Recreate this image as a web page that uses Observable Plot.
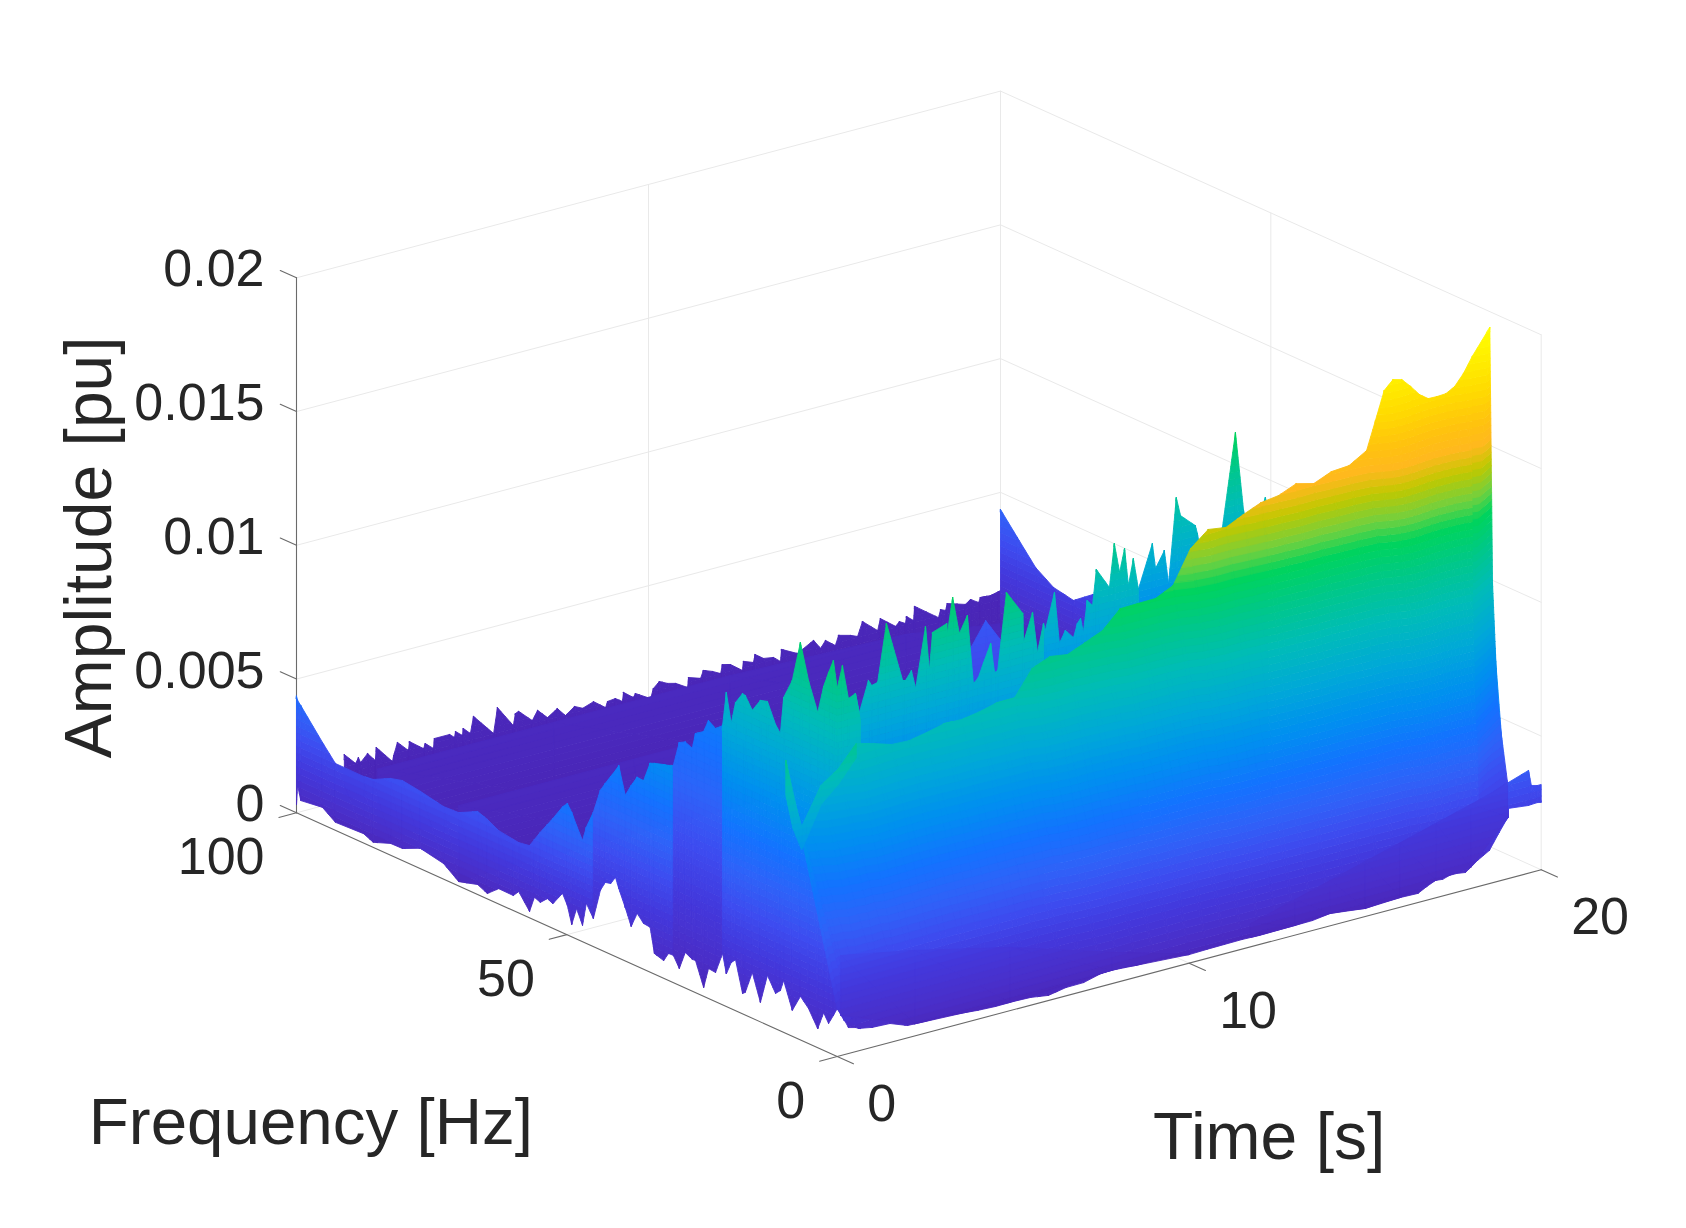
<!DOCTYPE html>
<html><head><meta charset="utf-8">
<style>html,body{margin:0;padding:0;background:#fff}svg{display:block}</style>
<script src="https://cdn.jsdelivr.net/npm/d3@7"></script>
<script src="https://cdn.jsdelivr.net/npm/@observablehq/plot@0.6"></script>
</head><body><div id="chart"></div>
<script>
// amplitudes in milli-pu, frequency in Hz, time in s
const ampTicks=[0,5,10,15,20], ampLabels=["0","0.005","0.01","0.015","0.02"];
const freqTicks=[0,50,100], timeTicks=[0,10,20];
const colorDomain=[0,0.8,2,3.2,4.3,5.5,7,8.5,10,11.5,12.7,13.5,14.5,15.3,16,17.3,19.4];
const colorRange=["#4a25b5","#4a2ec8","#4338dc","#3d4cf0","#2f62f8","#1472ff","#008ff0","#00a8d8","#00bcb8","#00c888","#00d45c","#70d040","#c0c800","#ffb81e","#ffc010","#ffdc00","#ffff00"];

// far edge, f = 100
const farTime=[1.36,1.68,1.76,1.82,2.02,2.24,2.27,2.73,2.76,2.87,3.18,3.21,3.61,3.66,3.89,3.92,4.35,4.49,4.52,4.72,4.74,4.94,5.03,5.6,5.71,6.16,6.22,6.31,6.7,6.85,7.13,7.41,7.64,7.9,8.13,8.44,8.78,8.84,9.06,9.26,9.29,9.57,9.63,10.06,10.14,10.31,10.54,10.77,11.11,11.14,11.48,11.56,11.82,12.05,12.1,12.33,12.67,12.7,12.98,13.03,13.27,13.55,13.75,13.78,14.23,14.69,14.89,15.03,15.31,15.4,15.74,15.94,16.08,16.51,16.59,17.02,17.13,17.3,17.33,17.53,17.56,18.24,18.3,18.44,18.49,19,19.15,19.38,19.43,19.72,19.94,20];
const farAmp=[1.7,1.26,1.45,1.24,1.51,1.17,1.65,.96,1.18,1.63,1.22,1.54,1.14,1.31,1.05,1.41,1.41,1.25,1.46,1.24,1.5,1.24,1.85,1.01,1.94,1.11,1.54,1.59,1.11,1.44,1.07,1.31,.97,1.22,1.07,1.21,.87,1.08,1.11,.93,1.26,.97,1.1,.76,1.11,1.31,1.16,1.08,.81,1.17,1.02,1.29,1.16,1,1.32,1.24,.9,1.23,1.09,1.37,1.14,1.08,.86,1.3,.99,1.32,.95,1.2,.91,1.26,1.14,1.03,1.54,1.05,1.47,1.03,1.17,1.04,1.29,1.07,1.59,.93,1.21,1.13,1.37,1.16,1.29,1.1,1.27,1.24,1.31,1.33];

// low plateau rows
const plateauTime=[0,5,10,15,18,20];
const plateau85=[3,3,3,2.8,2.2,1];
const plateau85Foot=[.3,.3,.3,.3,.3,.3];
const plateau70=[3,3,3,3,3,3];
const plateau70Foot=[.2,.2,.2,.2,.2,.2];

// end-of-record edge, t = 20
const endFreq=[100,96.9,93.5,90.2,86.5,82.9,79.6,70,60];
const endAmp=[4.36,3.6,2.78,2.34,2.19,2.74,2.8,2.8,2.5];

// hump behind the spikes, f = 50
const humpTime=[11.2,11.42,11.9,12.33];
const humpAmp=[5.2,6.6,7.58,6.7];

// spikes behind the main ridge
const spikeCTime=[15.63,16.02,16.11,16.36,16.48,16.7,16.82,17.24,17.3,17.53,18.01,18.38,18.61,18.81,19.23,19.29];
const spikeCAmp=[7.85,9.39,8.43,9.01,7.74,10.87,10.16,9.64,9.32,7.48,9.3,12.72,9.73,8.55,9.99,9.67];
const spikeBTime=[11.24,11.29,11.55,11.69,11.86,12.09,12.2,12.29,12.37,12.48,12.63,12.74,13.11,13.25,13.4,13.54,13.65,13.79,13.93];
const spikeBAmp=[9.08,8.8,10.13,8.18,8.6,8.25,8.74,8.9,8.34,9.5,9.26,10.57,9.77,11.36,10.23,11.08,9.66,10.61,9.45];
const spikeATime=[4.22,4.36,4.47,4.73,4.82,4.99,5.24,5.7,5.78,5.95,6.07,6.35,6.46,6.55,6.95,6.97,7.12,7.31,7.54,7.71,7.85,8,8.2,8.31,8.4,8.65,9.11,9.13,9.39,9.53,9.7];
const spikeAAmp=[9.56,9.77,9.02,10.13,9.91,9.97,12.08,9.79,9.76,10.07,9.36,11.58,9.9,11.29,11.48,11.1,12.4,10.98,11.58,8.97,9.15,9.66,10.3,9.18,9.22,12.05,11.11,10.01,11.04,9.5,10.52];

// start-of-record edge (t = 0, then along f = 0)
const startFreq=[100,99.8,99.2,95.2,92.8,87.6,85.8,82.6,80.4,77.1,72.8,70,66.5,64.7,62.6,59.9,58.9,56.9,56,54.9,53.6,52.6,50.8,49.9,49.1,48.2,47.1,46.4,45.1,43.8,42.9,41.9,41,40.4,39.2,38.1,37,35.8,34.6,33.8,32.1,31.2,30.3,29.2,28.1,26.8,26.2,24.7,23.8,22.5,21.2,20.5,19.6,18.8,17.5,17,15.7,14.2,12.9,11.4,10.5,9.9,8.3,6.8,5.3,3.6,2.5,1.6,.7,0,0,0,0,0];
const startTime=[0,0,0,0,0,0,0,0,0,0,0,0,0,0,0,0,0,0,0,0,0,0,0,0,0,0,0,0,0,0,0,0,0,0,0,0,0,0,0,0,0,0,0,0,0,0,0,0,0,0,0,0,0,0,0,0,0,0,0,0,0,0,0,0,0,0,0,0,0,0,.15,.32,.52,.66];
const startTop=[4.36,4.22,4.08,3.07,2.5,2.49,2.54,2.87,2.99,2.89,2.71,2.74,3.1,2.97,2.74,2.66,2.63,2.7,3.01,3.38,3.79,4.1,4.7,4.91,4.65,4.24,3.78,4.34,5.02,5.96,6.3,6.65,6.96,7.19,6.19,6.66,7.07,7.05,7.81,7.88,7.99,8.04,8.12,9.08,9.2,9.08,9.69,9.9,10.39,10.21,10.44,11.74,10.67,11.52,11.97,11.95,11.51,12.02,12.1,11.37,11.12,12.52,13.3,14.86,13.57,12.53,13.61,14.2,14.74,13.76,14.56,13.27,13.39,12.33];
const startFoot=[.3,1.04,.53,.64,.3,.35,.19,.44,.45,.76,.58,.16,.37,.2,.57,.56,.8,.24,.85,.76,1.02,.92,1.47,1.1,.46,1.14,.61,1.5,1.05,2.22,2.6,2.65,2.96,2.6,2,1.39,1.98,1.71,1.68,.77,.66,1.01,1.02,.63,1.33,1.19,1.2,.33,1.12,1.09,1.92,1.22,1.73,1.9,.76,.85,1.71,.73,1.86,1.32,1.51,1.94,.97,1.63,1.31,.71,1.41,1.09,1.47,1.79,1.44,.97,.9,.81];

// main ridge (f = 9.5) and its foot (f = 0)
const ridgeTime=[0,.2,.45,.6,1,1.5,2,2.5,3,3.5,4,4.5,5,5.5,6,6.5,7,7.5,8,8.5,9,9.5,10,10.5,11,11.5,12,12.5,13,13.5,14,14.5,15,15.5,16,16.5,16.75,17,17.25,17.5,17.75,18,18.25,18.5,18.75,19,19.25,19.5];
const ridgeAmp=[10.2,8.83,7.57,7.93,8.92,9.38,10.14,9.96,9.75,9.72,9.85,10.01,9.99,10.1,10.27,10.28,11.2,11.47,11.37,11.64,11.92,12.56,12.58,12.59,12.9,14.11,14.65,14.55,14.86,15.13,15.22,15.49,15.32,15.59,15.64,16.03,17.06,18.1,18.42,18.33,17.99,17.6,17.36,17.35,17.37,17.55,17.95,18.5];
const footTime=[0,.2,.45,.6,1,1.5,2,2.5,3,3.5,4,4.5,5,5.5,6,6.5,7,7.5,8,8.5,9,9.5,10,10.5,11,11.5,12,12.5,13,13.5,14,14.5,15,15.5,16,16.5,16.75,17,17.2,17.4,17.6,17.85,18.02,18.19,18.36,18.53,18.8,19.05];
const footAmp=[1.79,1.27,1.11,.84,.74,.71,.46,.44,.45,.39,.33,.3,.31,.29,.19,.31,.32,.49,.53,.44,.45,.42,.32,.34,.35,.36,.34,.35,.36,.37,.46,.4,.3,.35,.36,.34,.51,.65,.62,.7,.7,.65,.81,.98,1.11,1.24,1.8,2.29];

// slightly brighter rim on the first seconds of the ridge
const rimTime=[0,.2,.45,.6,1,1.5,2];
const rimTop=[10.2,8.83,7.57,7.93,8.92,9.38,10.14];
const rimFoot=[8.9,7.6,6.7,7.1,8.2,8.8,9.6];

// last seconds of the ridge: falling edge at t = 20
const edgeFreq=[9.5,9,8.08,7.7,6.23,6.05];
const edgeAmp=[19.41,9.89,5.6,4.88,2.7,1.4];
const edgeInnerFreq=[9.5,6,3.5,3.2,3,3];
const edgeInnerTime=[19.5,19,18.7,18.7,18.7,18.7];
const edgeInnerAmp=[18.5,9.89,5.6,4.88,2.7,1.4];

// wing at the corner, f = 0
const wingTime=[19.07,19.64,19.72,19.89,20];
const wingTop=[3.59,3.84,3.25,3.19,3.19];
const wingFoot=[2.62,2.53,2.54,2.55,2.52];

// low folds along the f = 0 edge
const foldRightTime=[11.74,13,14,15,16,17,18,19.07];
const foldRightTop=[.87,1.33,1.69,2.06,2.41,2.78,3.14,3.55];
const foldRightFoot=[.35,.36,.46,.3,.36,.65,.79,2.29];
const foldLeftTime=[.1,2.2,4.9,7.8,10];
const foldLeftTop=[3.74,3.2,2.37,1.17,.33];
const foldLeftFoot=[1.5,.45,.31,.5,.32];

// projection of (freq, time, milli-pu) onto the sheet
const origin=[836.7,1056], perSecond=[35.2,-9.335], perHz=[-5.407,-2.437], perMilli=-26.75;
const px=(f,t)=>origin[0]+perSecond[0]*t+perHz[0]*f;
const py=(f,t,a)=>origin[1]+perSecond[1]*t+perHz[1]*f+perMilli*a;

const rep=(v,n)=>Array.isArray(v)?v:Array(n).fill(v);
const polys=[];let qid=0;
const STEP=.25;
// cut a triangle into bands of equal amplitude so that the colours run along level lines
function clip(poly,L,keepAbove){
  const out=[];
  for(let i=0;i<poly.length;i++){
    const p=poly[i],q=poly[(i+1)%poly.length];
    const pin=keepAbove?p[2]>=L:p[2]<=L, qin=keepAbove?q[2]>=L:q[2]<=L;
    if(pin)out.push(p);
    if(pin!==qin){const k=(L-p[2])/(q[2]-p[2]);out.push([p[0]+(q[0]-p[0])*k,p[1]+(q[1]-p[1])*k,L]);}
  }
  return out;
}
function tri(P,tone){
  const as=P.map(p=>p[2]);
  const k0=Math.floor(Math.min(...as)/STEP),k1=Math.ceil(Math.max(...as)/STEP);
  for(let k=k0;k<k1;k++){
    const L=k*STEP,U=L+STEP;
    let poly=clip(P,L,true);if(poly.length<3)continue;
    poly=clip(poly,U,false);if(poly.length<3)continue;
    const id=qid++;
    for(const p of poly)polys.push({x:p[0],y:p[1],id,v:(L+STEP/2)*tone});
  }
}
function sheet(top,foot,tone=1){
  const n=top.a.length;
  const A={f:rep(top.f,n),t:rep(top.t,n),a:top.a}, B={f:rep(foot.f,n),t:rep(foot.t,n),a:rep(foot.a,n)};
  const pt=(S,i)=>[px(S.f[i],S.t[i]),py(S.f[i],S.t[i],S.a[i]),S.a[i]];
  for(let i=0;i<n-1;i++){
    tri([pt(A,i),pt(A,i+1),pt(B,i+1)],tone);
    tri([pt(A,i),pt(B,i+1),pt(B,i)],tone);
  }
}
function startSlice(i0,i1,tone){
  const c=a=>a.slice(i0,i1+1);
  sheet({f:c(startFreq),t:c(startTime),a:c(startTop)},{f:c(startFreq),t:c(startTime),a:c(startFoot)},tone);
}
const DARK=.15;
sheet({f:100,t:farTime,a:farAmp},{f:100,t:farTime,a:0},DARK);
sheet({f:85,t:plateauTime,a:plateau85},{f:85,t:plateauTime,a:plateau85Foot},DARK);
sheet({f:70,t:plateauTime,a:plateau70},{f:70,t:plateauTime,a:plateau70Foot},DARK);
sheet({f:endFreq,t:20,a:endAmp},{f:endFreq,t:20,a:0});
sheet({f:50,t:humpTime,a:humpAmp},{f:50,t:humpTime,a:0},.5);
sheet({f:46,t:spikeCTime,a:spikeCAmp},{f:46,t:spikeCTime,a:0});
sheet({f:35,t:spikeBTime,a:spikeBAmp},{f:35,t:spikeBTime,a:0});
sheet({f:25,t:spikeATime,a:spikeAAmp},{f:25,t:spikeATime,a:0});
const iBlue=startFreq.indexOf(45.1), iDim=startFreq.indexOf(30.3), iTeal=startFreq.indexOf(21.2);
startSlice(0,iBlue,1.15);
startSlice(iBlue,iDim,.85);
startSlice(iDim,iTeal,.58);
startSlice(iTeal,startFreq.length-1,.82);
sheet({f:9.5,t:ridgeTime,a:ridgeAmp},{f:0,t:footTime,a:footAmp});
sheet({f:9.5,t:rimTime,a:rimTop},{f:9.5,t:rimTime,a:rimFoot},1.1);
sheet({f:edgeFreq,t:20,a:edgeAmp},{f:edgeInnerFreq,t:edgeInnerTime,a:edgeInnerAmp});
sheet({f:0,t:foldLeftTime,a:foldLeftTop},{f:0,t:foldLeftTime,a:foldLeftFoot},.8);
sheet({f:0,t:foldRightTime,a:foldRightTop},{f:0,t:foldRightTime,a:foldRightFoot},.75);
sheet({f:0,t:wingTime,a:wingTop},{f:0,t:wingTime,a:wingFoot});

// box lines
const seg=(id,pts)=>pts.map(([f,t,a])=>({id,x:px(f,t),y:py(f,t,a)}));
const gridLines=[];
for(const a of ampTicks){gridLines.push(...seg("L"+a,[[100,0,a],[100,20,a],[0,20,a]]));}
gridLines.push(...seg("v1",[[100,10,0],[100,10,20]]),...seg("v2",[[50,20,0],[50,20,20]]),...seg("v3",[[100,20,0],[100,20,20]]),...seg("v4",[[0,20,0],[0,20,20]]));
gridLines.push(...seg("g1",[[50,0,0],[50,20,0]]),...seg("g2",[[100,10,0],[0,10,0]]));
const axisLines=[...seg("za",[[100,0,0],[100,0,20]]),...seg("fa",[[100,0,0],[0,0,0]]),...seg("ta",[[0,0,0],[0,20,0]])];
const tickLen={a:3,f:.5,t:3};
for(const a of ampTicks)axisLines.push(...seg("za"+a,[[100,0,a],[100+tickLen.a,0,a]]));
for(const f of freqTicks)axisLines.push(...seg("ft"+f,[[f,0,0],[f,-tickLen.f,0]]));
for(const t of timeTicks)axisLines.push(...seg("tt"+t,[[0,t,0],[-tickLen.t,t,0]]));

const textColor="#262626", fam="Liberation Sans, Arial, sans-serif";
const chart=Plot.plot({
  width:1686,height:1228,margin:0,
  x:{domain:[0,1686],range:[0,1686],axis:null},
  y:{domain:[0,1228],range:[0,1228],axis:null},
  color:{type:"linear",domain:colorDomain,range:colorRange,clamp:true},
  style:{background:"#fff",fontFamily:fam},
  marks:[
    Plot.line(gridLines,{x:"x",y:"y",z:"id",stroke:"#e9e9e9",strokeWidth:1}),
    Plot.line(axisLines,{x:"x",y:"y",z:"id",stroke:"#6a6a6a",strokeWidth:1.1}),
    Plot.line(polys,{x:"x",y:"y",z:"id",fill:"v",stroke:"v",strokeWidth:.9,curve:"linear-closed"}),
    Plot.text(ampTicks,{x:a=>px(100,0),y:a=>py(100,0,a),text:(a,i)=>ampLabels[i],textAnchor:"end",lineAnchor:"middle",dx:-32,dy:-8,fontSize:52,fill:textColor}),
    Plot.text(freqTicks,{x:f=>px(f,0),y:f=>py(f,0,0),text:f=>String(f),textAnchor:"end",lineAnchor:"middle",dx:-32,dy:45,fontSize:52,fill:textColor}),
    Plot.text(timeTicks,{x:t=>px(0,t),y:t=>py(0,t,0),text:t=>String(t),textAnchor:"start",lineAnchor:"middle",dx:30,dy:48,fontSize:52,fill:textColor}),
    Plot.text(["Amplitude [pu]"],{x:()=>px(100,0),y:()=>py(100,0,10),textAnchor:"middle",lineAnchor:"middle",rotate:-90,dx:-207,dy:2,fontSize:66,fill:textColor}),
    Plot.text(["Frequency [Hz]"],{x:()=>px(50,0),y:()=>py(50,0,0),textAnchor:"middle",lineAnchor:"bottom",dx:-256,dy:209,fontSize:65.5,fill:textColor}),
    Plot.text(["Time [s]"],{x:()=>px(0,10),y:()=>py(0,10,0),textAnchor:"middle",lineAnchor:"bottom",dx:80,dy:196,fontSize:66,fill:textColor})
  ]
});
document.getElementById("chart").appendChild(chart);
</script></body></html>
